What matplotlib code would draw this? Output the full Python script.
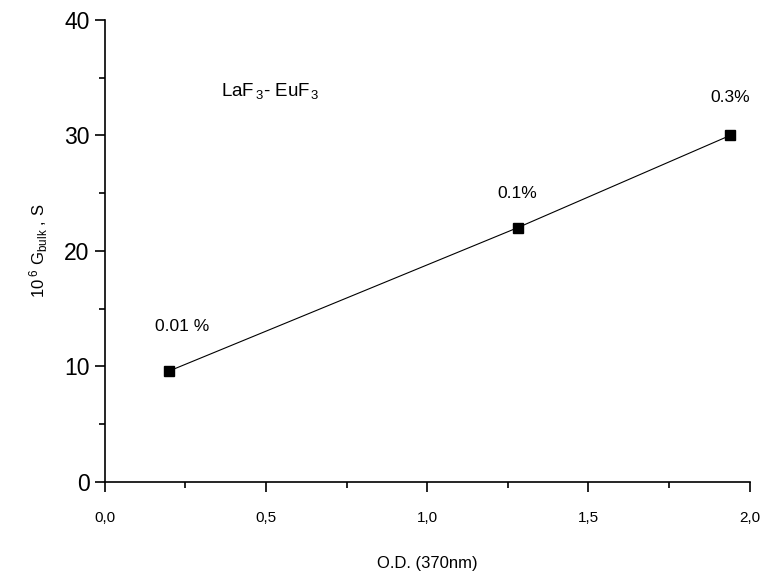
import numpy as np
import matplotlib.pyplot as plt
from matplotlib.ticker import MultipleLocator, FuncFormatter

plt.rcParams['font.family'] = ['Liberation Sans', 'DejaVu Sans']
plt.rcParams['mathtext.fontset'] = 'custom'
plt.rcParams['mathtext.rm'] = 'Liberation Sans'
plt.rcParams['mathtext.it'] = 'Liberation Sans'

# data
od = [0.20, 1.28, 1.94]
g_bulk = [9.6, 22.0, 30.0]
conc = ['0.01 %', '0.1%', '0.3%']
label_offsets = [(9, 32), (0, 25), (0, 27)]

fig = plt.figure(figsize=(7.65, 5.84), dpi=100)
ax = fig.add_axes([0.137, 0.175, 0.843, 0.791])

ax.plot(od, g_bulk, color='black', lw=0.8, marker='s', ms=7,
        mfc='black', mec='black')

for x, y, t, off in zip(od, g_bulk, conc, label_offsets):
    ax.annotate(t, (x, y), xytext=off, textcoords='offset points',
                ha='center', va='center', fontsize=12.5)

ax.text(0.18, 0.845, r'LaF$_{\,3}$- EuF$_{\,3}$', transform=ax.transAxes,
        fontsize=13.5, va='center')

ax.set_xlim(0, 2.0)
ax.set_ylim(0, 40)
ax.xaxis.set_major_locator(MultipleLocator(0.5))
ax.xaxis.set_minor_locator(MultipleLocator(0.25))
ax.yaxis.set_major_locator(MultipleLocator(10))
ax.yaxis.set_minor_locator(MultipleLocator(5))
ax.xaxis.set_major_formatter(FuncFormatter(lambda v, p: f'{v:.1f}'.replace('.', ',')))

for s in ['top', 'right']:
    ax.spines[s].set_visible(False)
for s in ['left', 'bottom']:
    ax.spines[s].set_linewidth(1.2)

ax.tick_params(which='major', direction='out', length=7, width=1.2)
ax.tick_params(which='minor', direction='out', length=4, width=1.2)
ax.tick_params(axis='y', labelsize=16.5, pad=4)
ax.tick_params(axis='x', labelsize=11, pad=14)

ax.set_xlabel('O.D. (370nm)', fontsize=12, labelpad=22)
ax.set_ylabel(r'10$^{\ 6}$ G$_{\rm bulk}$ , S', fontsize=12, labelpad=10)

fig.savefig('out.png', dpi=100)
